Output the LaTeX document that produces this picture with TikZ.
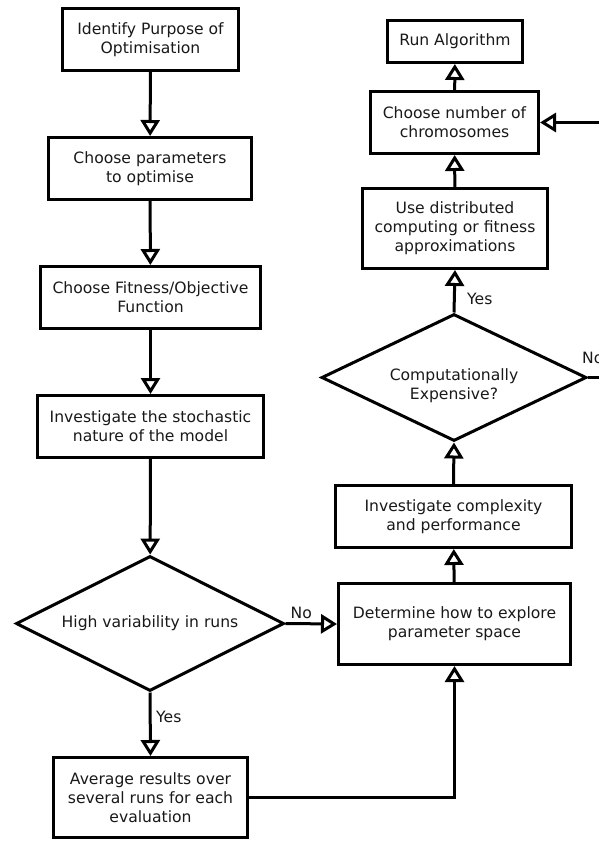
\documentclass[tikz,border=0pt]{standalone}
\usepackage{fontspec}
\setmainfont{DejaVu Sans}
\usetikzlibrary{arrows.meta,shapes.geometric}

\tikzset{
  every node/.style={font=\fontsize{15.6}{19}\selectfont, text=black!90},
  stepbox/.style={draw, line width=3pt, rectangle, align=center, inner sep=0pt},
  decision/.style={draw, line width=3pt, diamond, aspect=2, inner sep=0pt, align=center},
  flow/.style={line width=3pt, -{Triangle[open, length=16pt, width=19pt]}},
  lbl/.style={inner sep=0pt}
}

\begin{document}
\begin{tikzpicture}[x=1pt, y=-1pt]
  \fill[white] (0,0) rectangle (598,841);
  \useasboundingbox (0,0) rectangle (598,841);

  % left column
  \node[stepbox, minimum width=176pt, minimum height=62pt] (purpose) at (150.5,39.5)
    {Identify Purpose of\\Optimisation};
  \node[stepbox, minimum width=203pt, minimum height=62pt] (params) at (150,168.5)
    {Choose parameters\\to optimise};
  \node[stepbox, minimum width=220pt, minimum height=62pt] (fitness) at (150.5,297.5)
    {Choose Fitness/Objective\\Function};
  \node[stepbox, minimum width=226pt, minimum height=62pt] (stoch) at (150.5,426.5)
    {Investigate the stochastic\\nature of the model};
  \node[decision, minimum width=268pt, minimum height=135pt] (var) at (150,623.5)
    {High variability in runs};
  \node[stepbox, minimum width=194pt, minimum height=80pt] (avg) at (150.5,797.5)
    {Average results over\\several runs for each\\evaluation};

  % right column
  \node[stepbox, minimum width=232pt, minimum height=81pt] (explore) at (454.5,624)
    {Determine how to explore\\parameter space};
  \node[stepbox, minimum width=236pt, minimum height=62pt] (perf) at (453.5,516.5)
    {Investigate complexity\\and performance};
  \node[decision, minimum width=265pt, minimum height=127pt] (expens) at (454,377.5) {};
  \node[align=center, inner sep=0pt] (expenstxt) at (454,386)
    {Computationally\\Expensive?};
  \node[stepbox, minimum width=185pt, minimum height=80pt] (distrib) at (455,228.5)
    {Use distributed\\computing or fitness\\approximations};
  \node[stepbox, minimum width=168pt, minimum height=62pt] (chromo) at (454.5,122.5)
    {Choose number of\\chromosomes};
  \node[stepbox, minimum width=135pt, minimum height=42pt] (run) at (455,41.5)
    {Run Algorithm};

  % connectors, left column
  \draw[flow] (purpose) -- (params);
  \draw[flow] (params) -- (fitness);
  \draw[flow] (fitness) -- (stoch);
  \draw[flow] (stoch) -- (var);
  \draw[flow] (var.east) -- (explore.west);
  \draw[flow] (var.south) -- (avg.north);
  \draw[flow] (avg.east) -| (explore.south);

  % connectors, right column
  \draw[flow] (explore) -- (perf);
  \draw[flow] (perf.north) -- (expens.south);
  \draw[flow] (expens.north) -- (distrib.south);
  \draw[flow] (distrib) -- (chromo);
  \draw[flow] (chromo) -- (run);
  \coordinate (loopcorner) at (620,377.5);
  \draw[flow] (expens.east) -- (loopcorner) |- (chromo.east);

  % branch labels
  \node[lbl, anchor=base west] at ([xshift=5pt,yshift=5pt]var.east) {No};
  \node[lbl, anchor=base west] at ([xshift=6pt,yshift=-30pt]var.south) {Yes};
  \node[lbl, anchor=base west] at ([xshift=13pt,yshift=8pt]expens.north) {Yes};
  \node[lbl, anchor=base west] at ([xshift=-6pt,yshift=14.5pt]expens.east) {No};
\end{tikzpicture}
\end{document}
